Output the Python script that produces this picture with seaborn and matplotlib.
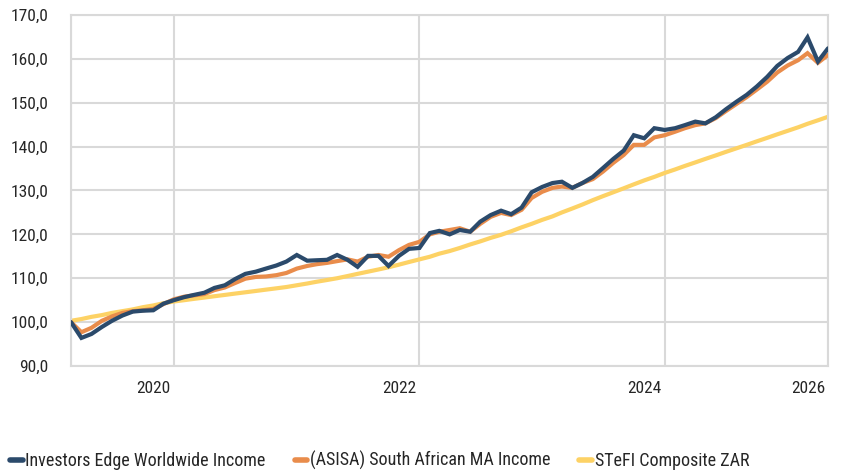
import pandas as pd
import matplotlib
matplotlib.use("Agg")
import matplotlib.pyplot as plt
import matplotlib.transforms as mtransforms
from matplotlib.ticker import FuncFormatter, MultipleLocator
import seaborn as sns

# monthly index values (rebased to 100)
months = pd.date_range("2019-03-01", periods=75, freq="MS")

investors_edge = [
    100.0, 96.4, 97.3, 98.9, 100.3, 101.5, 102.4, 102.6, 102.7, 104.2,
    105.0, 105.7, 106.2, 106.7, 107.8, 108.4, 109.8, 111.0, 111.5, 112.2,
    112.9, 113.8, 115.3, 114.0, 114.1, 114.2, 115.3, 114.2, 112.6, 115.1,
    115.1, 112.8, 115.1, 116.7, 116.9, 120.3, 120.8, 120.0, 121.0, 120.6,
    122.9, 124.4, 125.4, 124.6, 126.1, 129.6, 130.8, 131.7, 132.0, 130.6,
    131.7, 133.1, 135.1, 137.2, 139.1, 142.6, 141.9, 144.2, 143.8, 144.2,
    144.9, 145.7, 145.3, 146.7, 148.5, 150.2, 151.8, 153.7, 155.9, 158.4,
    160.2, 161.6, 164.9, 159.4, 162.4,
]
asisa_ma_income = [
    100.0, 97.7, 98.7, 100.3, 101.3, 102.1, 102.5, 102.7, 103.0, 104.1,
    105.2, 105.8, 106.1, 106.4, 107.3, 107.9, 108.9, 109.9, 110.3, 110.4,
    110.7, 111.2, 112.2, 112.8, 113.2, 113.5, 113.9, 114.3, 113.8, 114.9,
    115.3, 114.9, 116.4, 117.6, 118.3, 120.0, 120.6, 121.0, 121.4, 120.6,
    122.4, 124.0, 124.9, 124.4, 125.6, 128.3, 129.7, 130.6, 130.9, 130.6,
    131.7, 132.6, 134.3, 136.3, 138.1, 140.4, 140.4, 142.1, 142.6, 143.4,
    144.2, 144.9, 145.3, 146.5, 148.1, 149.7, 151.3, 153.0, 154.8, 156.9,
    158.5, 159.7, 161.3, 159.1, 160.9,
]
stefi_composite = [
    100.3, 100.7, 101.2, 101.6, 102.1, 102.5, 102.9, 103.4, 103.8, 104.3,
    104.7, 105.0, 105.3, 105.6, 105.9, 106.2, 106.5, 106.8, 107.1, 107.4,
    107.7, 108.0, 108.4, 108.8, 109.2, 109.6, 110.0, 110.5, 111.0, 111.5,
    112.0, 112.5, 113.1, 113.7, 114.3, 114.9, 115.6, 116.2, 116.9, 117.7,
    118.4, 119.2, 119.9, 120.7, 121.6, 122.4, 123.3, 124.1, 125.0, 125.9,
    126.8, 127.8, 128.7, 129.6, 130.5, 131.4, 132.3, 133.1, 134.0, 134.8,
    135.6, 136.4, 137.2, 138.0, 138.8, 139.6, 140.4, 141.2, 142.0, 142.8,
    143.6, 144.4, 145.2, 146.0, 146.8,
]

series_names = [
    "Investors Edge Worldwide Income",
    "(ASISA) South African MA Income",
    "STeFI Composite ZAR",
]
series_colors = ["#2b4a6b", "#e98c4b", "#fdd265"]

tick_dates = pd.to_datetime(["2019-03-01", "2020-01-01", "2022-01-01", "2024-01-01", "2025-05-01"])
tick_labels = ["", "2020", "2022", "2024", "2026"]

df = pd.DataFrame({
    "month": months,
    series_names[0]: investors_edge,
    series_names[1]: asisa_ma_income,
    series_names[2]: stefi_composite,
}).melt(id_vars="month", var_name="series", value_name="value")

sns.set_style("white")
# the original uses a condensed face; take one if the system has it
plt.rcParams["font.family"] = ["Noto Sans Condensed", "DejaVu Sans Condensed", "Roboto Condensed",
                               "Noto Sans", "DejaVu Sans"]
plt.rcParams["font.stretch"] = "condensed"
plt.rcParams["text.color"] = "#262626"
plt.rcParams["xtick.color"] = "#d9d9d9"
plt.rcParams["ytick.color"] = "#d9d9d9"
plt.rcParams["xtick.labelcolor"] = "#262626"
plt.rcParams["ytick.labelcolor"] = "#262626"

grid_col = "#d9d9d9"

fig = plt.figure(figsize=(8.42, 4.76), dpi=100)
ax = fig.add_axes([0.0843, 0.2311, 0.8991, 0.7374])

sns.lineplot(data=df, x="month", y="value", hue="series", hue_order=series_names,
             palette=series_colors, linewidth=3.0, ax=ax)

# blue on top, yellow underneath
for line, z in zip(ax.lines[:3], [4, 3, 2]):
    line.set_zorder(z)
    line.set_solid_joinstyle("miter")

ax.set_xlim(months[0], months[-1])
ax.set_ylim(90, 170)
ax.yaxis.set_major_locator(MultipleLocator(10))
ax.yaxis.set_major_formatter(FuncFormatter(lambda v, p: f"{v:.1f}".replace(".", ",")))
ax.set_xticks(tick_dates)
ax.set_xticklabels(tick_labels)
ax.set_xlabel("")
ax.set_ylabel("")

ax.grid(True, color=grid_col, linewidth=1.5)
ax.set_axisbelow(True)
for sp in ax.spines.values():
    sp.set_visible(True)
    sp.set_color(grid_col)
    sp.set_linewidth(1.5)

ax.tick_params(axis="y", length=10, width=1.5, pad=6.5, labelsize=12.5)
ax.tick_params(axis="x", length=9.5, width=1.5, pad=1, labelsize=12.5)

# year labels sit just left of their tick
shift = mtransforms.ScaledTranslation(-3 / 100, 0, fig.dpi_scale_trans)
for lab in ax.get_xticklabels():
    lab.set_horizontalalignment("right")
    lab.set_transform(lab.get_transform() + shift)

sns.move_legend(ax, "center left", bbox_to_anchor=(0.012, 0.032), bbox_transform=fig.transFigure,
                ncol=3, frameon=False, title=None, fontsize=13,
                handlelength=0.7, handletextpad=0.15, columnspacing=1.6,
                borderaxespad=0, borderpad=0)
for h in ax.get_legend().get_lines():
    h.set_linewidth(4)

fig.savefig("out.png", dpi=100)
